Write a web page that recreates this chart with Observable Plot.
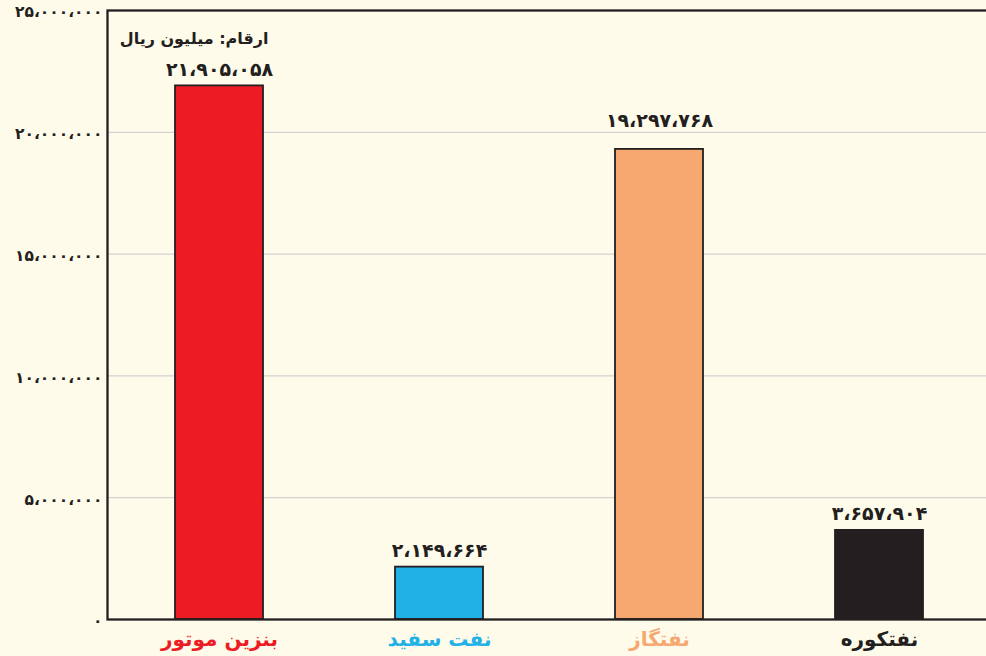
<!DOCTYPE html>
<html>
<head>
<meta charset="utf-8">
<script src="https://cdn.jsdelivr.net/npm/d3@7"></script>
<script src="https://cdn.jsdelivr.net/npm/@observablehq/plot@0.6"></script>
<style>
  html, body { margin: 0; padding: 0; background: #fefbea; overflow: hidden; }
  #chart svg { display: block; background: #fefbea; }
</style>
</head>
<body>
<div id="chart"></div>
<script>
const categories = ["بنزین موتور", "نفت سفید", "نفتگاز", "نفتکوره"];
const values = [21905058, 2149664, 19297768, 3657904];
const colors = ["#ed1c24", "#22b1e6", "#f7a870", "#231f20"];
const yTicks = [0, 5000000, 10000000, 15000000, 20000000, 25000000];
const unitLabel = "ارقام: میلیون ریال";

const data = categories.map((c, i) => ({name: c, value: values[i], color: colors[i]}));

const faDigits = "۰۱۲۳۴۵۶۷۸۹";
const fa = v => d3.format(",")(v).replace(/,/g, "،").replace(/\d/g, d => faDigits[+d]);

const font = "DejaVu Sans";
const raised = "نفتگاز";

const chart = Plot.plot({
  width: 986,
  height: 656,
  marginLeft: 107,
  marginRight: -4,
  marginTop: 10,
  marginBottom: 37,
  style: {background: "#fefbea", fontFamily: font},
  x: {domain: categories, paddingInner: 0.6, paddingOuter: 0.3, axis: null},
  y: {domain: [0, 25000000], axis: null},
  color: {type: "identity"},
  marks: [
    Plot.gridY(yTicks.slice(1, -1), {stroke: "#d2d2d2", strokeOpacity: 1, strokeWidth: 1.2}),
    Plot.axisY(yTicks, {label: null, tickSize: 0, tickPadding: 5, tickFormat: fa, fontSize: 15.5, fontWeight: "bold", fill: "#231f20", dy: 2}),
    Plot.barY(data, {x: "name", y: "value", fill: "color", stroke: "#231f20", strokeWidth: 1.8}),
    Plot.text(data.filter(d => d.name !== raised), {x: "name", y: "value", text: d => fa(d.value), dy: -16, fontSize: 19, fontWeight: "bold", fill: "#231f20"}),
    Plot.text(data.filter(d => d.name === raised), {x: "name", y: "value", text: d => fa(d.value), dy: -29, fontSize: 19, fontWeight: "bold", fill: "#231f20"}),
    Plot.text(data, {x: "name", y: 0, text: "name", fill: "color", dy: 20, fontSize: 20, fontWeight: "bold"}),
    Plot.frame({stroke: "#231f20", strokeWidth: 2.3}),
    Plot.text([unitLabel], {frameAnchor: "top-left", dx: 161, dy: 22, textAnchor: "end", fontSize: 16, fontWeight: "bold", fill: "#231f20"})
  ]
});

document.getElementById("chart").appendChild(chart);
</script>
</body>
</html>
